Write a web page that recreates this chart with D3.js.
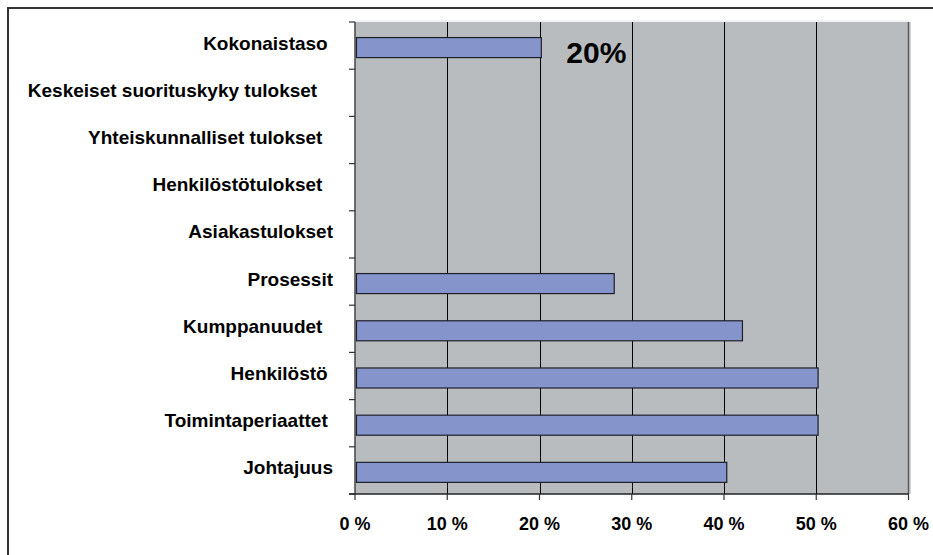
<!DOCTYPE html>
<html>
<head>
<meta charset="utf-8">
<script src="https://cdn.jsdelivr.net/npm/d3@7"></script>
<style>
  html, body { margin: 0; padding: 0; background: #ffffff; }
  svg { display: block; }
  text { font-family: "Liberation Sans", Arial, sans-serif; font-weight: bold; fill: #000; white-space: pre; }
</style>
</head>
<body>
<svg id="chart" width="933" height="555"></svg>
<script>
// Categories, top to bottom as in the chart (trailing spaces as in the source labels)
const categories = [
  "Kokonaistaso ",
  "Keskeiset suorituskyky tulokset   ",
  "Yhteiskunnalliset tulokset  ",
  "Henkilöstötulokset  ",
  "Asiakastulokset",
  "Prosessit",
  "Kumppanuudet  ",
  "Henkilöstö ",
  "Toimintaperiaattet ",
  "Johtajuus"
];
// Percent values (empty categories have no bar)
const values = [20.2, null, null, null, null, 28.1, 42.0, 50.2, 50.2, 40.3];
const xTicks = [0, 10, 20, 30, 40, 50, 60];
const annotationText = "20%";
const annotationIndex = 0;

const svg = d3.select("#chart");
const plot = { left: 355, right: 908.5, top: 22, bottom: 494 };

const x = d3.scaleLinear().domain([0, 60]).range([plot.left, plot.right]);
const y = d3.scaleBand().domain(categories).range([plot.top, plot.bottom]).padding(0);

// Outer frame
svg.append("rect")
  .attr("x", 8).attr("y", 8).attr("width", 1000).attr("height", 1000)
  .attr("fill", "none").attr("stroke", "#333").attr("stroke-width", 2);

// Plot background
svg.append("rect")
  .attr("x", plot.left).attr("y", plot.top)
  .attr("width", plot.right - plot.left).attr("height", plot.bottom - plot.top)
  .attr("fill", "#b8bcbe");
svg.append("line").attr("x1", plot.left).attr("x2", plot.right + 2)
  .attr("y1", plot.top - 1).attr("y2", plot.top - 1)
  .attr("stroke", "#e6e6e6").attr("stroke-width", 1);
svg.append("line").attr("x1", plot.right + 1.5).attr("x2", plot.right + 1.5)
  .attr("y1", plot.top).attr("y2", plot.bottom)
  .attr("stroke", "#a8a8a8").attr("stroke-width", 1);

// Vertical gridlines
svg.append("g").selectAll("line")
  .data(xTicks.filter(d => d > 0 && d < 60))
  .join("line")
  .attr("x1", d => Math.round(x(d)) + 0.5).attr("x2", d => Math.round(x(d)) + 0.5)
  .attr("y1", plot.top).attr("y2", plot.bottom)
  .attr("stroke", "#000").attr("stroke-width", 1);
svg.append("line")
  .attr("x1", x(60)).attr("x2", x(60))
  .attr("y1", plot.top).attr("y2", plot.bottom)
  .attr("stroke", "#5a5a5a").attr("stroke-width", 1.5);

// Bars
const step = y.step();
svg.append("g").selectAll("rect")
  .data(categories.map((c, i) => ({ c, v: values[i] })).filter(d => d.v != null))
  .join("rect")
  .attr("x", x(0) + 1.5)
  .attr("y", d => y(d.c) + step * 0.33)
  .attr("width", d => x(d.v) - x(0) - 1.5)
  .attr("height", step * 0.424)
  .attr("fill", "#8595cb")
  .attr("stroke", "#1f1f2a")
  .attr("stroke-width", 1.2);

// Y axis (category axis)
const yAxisG = svg.append("g");
yAxisG.append("line")
  .attr("x1", plot.left).attr("x2", plot.left)
  .attr("y1", plot.top).attr("y2", plot.bottom)
  .attr("stroke", "#444").attr("stroke-width", 1.5);
const yTickPos = categories.map(c => y(c)).concat([plot.bottom]);
yAxisG.selectAll("line.tick")
  .data(yTickPos)
  .join("line").attr("class", "tick")
  .attr("x1", plot.left - 6).attr("x2", plot.left)
  .attr("y1", d => d).attr("y2", d => d)
  .attr("stroke", "#333").attr("stroke-width", 1.2);
yAxisG.selectAll("text")
  .data(categories)
  .join("text")
  .attr("x", plot.left - 22)
  .attr("y", d => y(d) + y.bandwidth() / 2 + 4)
  .attr("text-anchor", "end")
  .attr("font-size", 19)
  .text(d => d);

// X axis
const xAxisG = svg.append("g");
xAxisG.append("line")
  .attr("x1", plot.left - 6).attr("x2", plot.right)
  .attr("y1", plot.bottom).attr("y2", plot.bottom)
  .attr("stroke", "#222").attr("stroke-width", 1.5);
xAxisG.selectAll("line.tick")
  .data(xTicks)
  .join("line").attr("class", "tick")
  .attr("x1", d => x(d)).attr("x2", d => x(d))
  .attr("y1", plot.bottom).attr("y2", plot.bottom + 6)
  .attr("stroke", "#333").attr("stroke-width", 1.2);
xAxisG.selectAll("text")
  .data(xTicks)
  .join("text")
  .attr("x", d => x(d))
  .attr("y", plot.bottom + 36)
  .attr("text-anchor", "middle")
  .attr("font-size", 18)
  .text(d => d + " %");

// Annotation
const ac = categories[annotationIndex];
svg.append("text")
  .attr("x", x(values[annotationIndex]) + 25)
  .attr("y", y(ac) + step * 0.87)
  .attr("font-size", 30)
  .text(annotationText);
</script>
</body>
</html>
